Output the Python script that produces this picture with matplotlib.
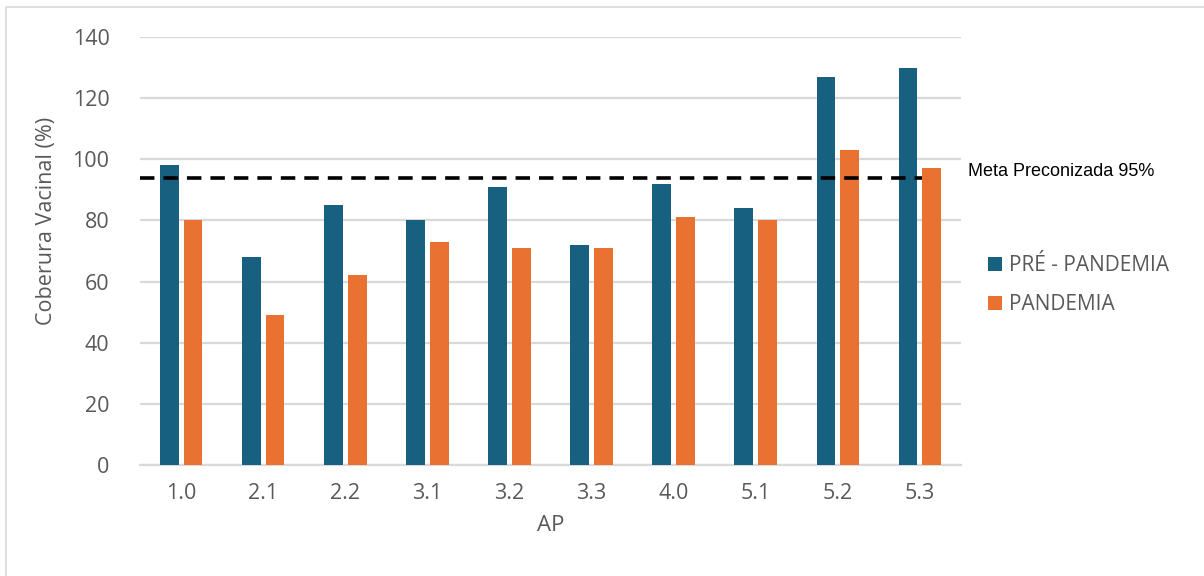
import numpy as np
import matplotlib
matplotlib.use('Agg')
import matplotlib.pyplot as plt
from matplotlib.patches import Rectangle

# dados
categorias = ['1.0', '2.1', '2.2', '3.1', '3.2', '3.3', '4.0', '5.1', '5.2', '5.3']
pre_pandemia = [98, 68, 85, 80, 91, 72, 92, 84, 127, 130]
pandemia = [80, 49, 62, 73, 71, 71, 81, 80, 103, 97]
meta = 94

azul = '#17607f'
laranja = '#e97132'
cinza_txt = '#595959'

plt.rcParams['font.family'] = ['Open Sans', 'DejaVu Sans']

fig = plt.figure(figsize=(12.04, 5.76), dpi=100)
ax = fig.add_axes([140 / 1204, 1 - 465 / 576, (961 - 140) / 1204, (465 - 37) / 576])

x = np.arange(len(categorias))
w = 0.23
ax.bar(x - 0.145, pre_pandemia, w, color=azul, label='PRÉ - PANDEMIA', zorder=3)
ax.bar(x + 0.145, pandemia, w, color=laranja, label='PANDEMIA', zorder=3)

# linha da meta
ax.hlines(meta, -0.5, 9.02, colors='black', linestyles=(0, (4, 2.5)), linewidth=2.6, zorder=4)
ax.text(1.008, meta + 2, 'Meta Preconizada 95%', transform=ax.get_yaxis_transform(),
        fontsize=13, family='Liberation Sans', color='black', va='center', ha='left', clip_on=False)

ax.set_xlim(-0.5, len(categorias) - 0.5)
ax.set_ylim(0, 140)
ax.set_yticks(range(0, 141, 20))
ax.set_xticks(x)
ax.set_xticklabels(categorias)
ax.tick_params(axis='both', length=0, labelsize=15.5, labelcolor=cinza_txt)
ax.tick_params(axis='y', pad=22)
ax.tick_params(axis='x', pad=13)
ax.grid(axis='y', color='#d9d9d9', linewidth=1.6, zorder=0)
for s in ['top', 'right', 'left']:
    ax.spines[s].set_visible(False)
ax.spines['bottom'].set_color('#d9d9d9')
ax.spines['bottom'].set_linewidth(1.6)

ax.set_ylabel('Coberura Vacinal (%)', fontsize=15.5, color=cinza_txt)
ax.yaxis.set_label_coords(-0.101, 0.57)
ax.set_xlabel('AP', fontsize=16, color=cinza_txt, labelpad=8)

leg = ax.legend(loc='center left', bbox_to_anchor=(1.01, 0.42), frameon=False,
                fontsize=15, handlelength=0.65, handleheight=0.65, handletextpad=0.35,
                labelspacing=0.85, labelcolor=cinza_txt)

# moldura externa (so topo e esquerda visiveis)
fig.patches.append(Rectangle((6 / 1204, -0.1), 1.2, 1 - 7 / 576 + 0.1, transform=fig.transFigure,
                             fill=False, edgecolor='#d9d9d9', linewidth=1.2))

fig.savefig('out.png', dpi=100)
